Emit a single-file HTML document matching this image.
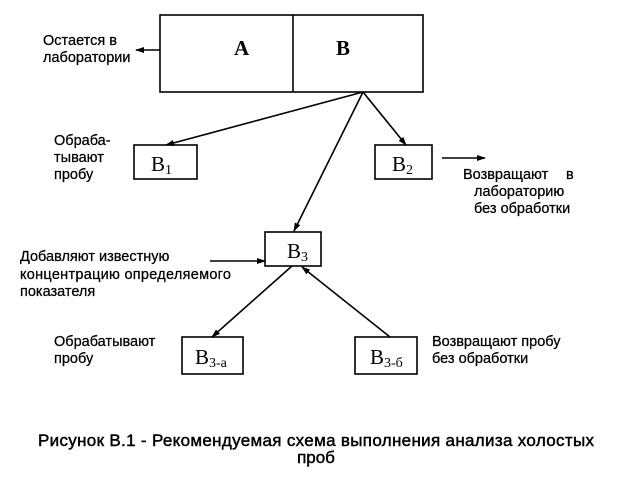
<!DOCTYPE html>
<html><head><meta charset="utf-8"><style>
html,body{margin:0;padding:0;background:#fff;}
svg{display:block;}
.l{font-family:"Liberation Sans",sans-serif;font-size:14.5px;fill:#000;stroke:#000;stroke-width:0.25;}
.b{font-family:"Liberation Serif",serif;font-size:21px;fill:#000;}
.s{font-family:"Liberation Serif",serif;font-size:14px;}
.c{font-family:"Liberation Sans",sans-serif;font-size:17px;fill:#000;stroke:#000;stroke-width:0.45;}
</style></head><body>
<svg width="620" height="479" viewBox="0 0 620 479" xmlns="http://www.w3.org/2000/svg">
<defs><marker id="a" markerWidth="9" markerHeight="8" refX="8" refY="4" orient="auto" markerUnits="userSpaceOnUse"><path d="M0,1 L9,4 L0,7 Z" fill="#000"/></marker></defs>
<g fill="none" stroke="#000" stroke-width="1.6">
<rect x="160" y="15" width="263" height="77"/>
<line x1="293" y1="15" x2="293" y2="92"/>
<rect x="134" y="145" width="63" height="34"/>
<rect x="375" y="145" width="57" height="34"/>
<rect x="265" y="232" width="56" height="34"/>
<rect x="182" y="337" width="61" height="37"/>
<rect x="355" y="337" width="62" height="37"/>
<line x1="160" y1="50" x2="136" y2="50" marker-end="url(#a)"/>
<line x1="363" y1="92" x2="166" y2="145" marker-end="url(#a)"/>
<line x1="363" y1="92" x2="294" y2="231" marker-end="url(#a)"/>
<line x1="363" y1="92" x2="406" y2="145" marker-end="url(#a)"/>
<line x1="442" y1="158" x2="485" y2="158" marker-end="url(#a)"/>
<line x1="210" y1="261" x2="265" y2="261" marker-end="url(#a)"/>
<line x1="292" y1="266" x2="212" y2="337" marker-end="url(#a)"/>
<line x1="390" y1="337" x2="302" y2="267" marker-end="url(#a)"/>
</g>
<text class="l" x="43" y="45">Остается в</text>
<text class="l" x="43" y="62">лаборатории</text>
<text class="b" x="234" y="55" font-weight="bold" font-size="17">A</text>
<text class="b" x="336" y="55" font-weight="bold" font-size="17">B</text>
<text class="l" x="54" y="145">Обраба-</text>
<text class="l" x="54" y="162">тывают</text>
<text class="l" x="54" y="179">пробу</text>
<text class="b" x="151" y="171">B<tspan class="s" dy="3">1</tspan></text>
<text class="b" x="392" y="171">B<tspan class="s" dy="3">2</tspan></text>
<text class="l" x="463" y="179">Возвращают</text>
<text class="l" x="566" y="179">в</text>
<text class="l" x="474" y="196">лабораторию</text>
<text class="l" x="474" y="213">без обработки</text>
<text class="b" x="287" y="258">B<tspan class="s" dy="3">3</tspan></text>
<text class="l" x="20" y="261">Добавляют  известную</text>
<text class="l" x="20" y="279" textLength="211">концентрацию определяемого</text>
<text class="l" x="20" y="296">показателя</text>
<text class="l" x="54" y="346">Обрабатывают</text>
<text class="l" x="54" y="363">пробу</text>
<text class="b" x="195" y="364">B<tspan class="s" dy="3">3-а</tspan></text>
<text class="b" x="370" y="364">B<tspan class="s" dy="3">3-б</tspan></text>
<text class="l" x="432" y="346">Возвращают пробу</text>
<text class="l" x="432" y="363">без обработки</text>
<text class="c" x="38" y="446" textLength="556">Рисунок В.1 - Рекомендуемая схема  выполнения анализа холостых</text>
<text class="c" x="316" y="463" text-anchor="middle">проб</text>
</svg>
</body></html>
